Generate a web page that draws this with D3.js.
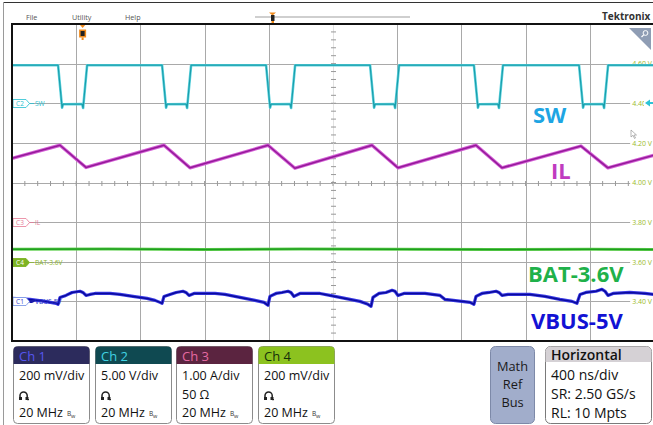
<!DOCTYPE html>
<html><head><meta charset="utf-8">
<script src="https://cdn.jsdelivr.net/npm/d3@7"></script>
<style>body{margin:0;background:#fff;overflow:hidden}svg{display:block}</style>
</head><body>
<svg id="c" width="653" height="425"></svg>
<script>
// ================= DATA =================
const timeDomainNs = [0, 4000];          // 10 div x 400 ns/div
const triggerTimeNs = 440;

// Ch2 SW (volts)
const swT = [0,287,312,318,437,443,468, 935,960,966,1085,1091,1116, 1583,1608,1614,1733,1739,1764,
             2231,2256,2262,2381,2387,2412, 2878,2903,2909,3028,3034,3059, 3533,3558,3564,3683,3689,3714, 4000];
const swV = [4.80,4.80,-0.55,-0.12,-0.10,-0.60,4.80, 4.80,-0.55,-0.12,-0.10,-0.60,4.80, 4.80,-0.55,-0.12,-0.10,-0.60,4.80,
             4.80,-0.55,-0.12,-0.10,-0.60,4.80, 4.80,-0.55,-0.12,-0.10,-0.60,4.80, 4.80,-0.55,-0.12,-0.10,-0.60,4.80, 4.80];

// Ch3 IL (amps)
const ilT = [0,299,461,947,1109,1595,1763,2243,2405,2891,3053,3545,3713,4000];
const ilA = [1.61,1.94,1.38,1.94,1.37,1.94,1.36,1.94,1.37,1.94,1.37,1.92,1.37,1.69];

// Ch4 BAT-3.6V (volts)
const batT = [0,600,1200,1800,2400,3000,3600,4000];
const batV = [3.663,3.664,3.662,3.664,3.663,3.662,3.663,3.662];

// Ch1 VBUS-5V (volts)
const vbusT = [0,112,206,274,287, 299,336,374,424,442,461,486,517,611,673,754,841,891,922,935,
  947,984,1022,1065,1084,1103,1134,1265,1327,1421,1514,1570,1595,
  1607,1645,1682,1720,1738,1757,1794,1919,1981,2075,2168,2218,2237,
  2249,2287,2330,2368,2386,2405,2442,2573,2667,2698,2854,2878,
  2891,2928,2972,3016,3034,3053,3090,3227,3321,3414,3489,3520,
  3539,3576,3639,3676,3695,3713,3745,3849,3944,4000];
const vbusV = [5.015,5.010,5.000,4.990,4.985, 5.020,5.030,5.045,5.051,5.045,5.030,5.035,5.040,5.040,5.035,5.025,5.015,5.005,4.995,4.990,
  5.025,5.035,5.045,5.051,5.045,5.030,5.040,5.040,5.035,5.020,5.005,4.995,4.980,
  5.025,5.040,5.045,5.051,5.045,5.025,5.040,5.040,5.030,5.015,5.000,4.985,4.975,
  5.020,5.040,5.045,5.056,5.051,5.030,5.040,5.040,5.030,5.010,4.995,4.985,
  5.025,5.040,5.045,5.051,5.045,5.030,5.035,5.035,5.025,5.010,5.000,4.990,
  5.035,5.045,5.051,5.061,5.051,5.030,5.040,5.045,5.040,5.035];

// channel settings
const chIds      = ["C1","C2","C3","C4"];
const chNames    = ["VBUS-5V","SW","IL","BAT-3.6V"];
const chOffsets  = [5.0, 0, 0, 3.6];      // value at marker
const chPerDiv   = [0.2, 5.0, 1.0, 0.2];
const chPosDiv   = [-3, 2, -1, -2];
const ch4Ticks   = [4.6,4.4,4.2,4.0,3.8,3.6,3.4];
const panelTitles = ["Ch 1","Ch 2","Ch 3","Ch 4"];
const panelScale  = ["200 mV/div","5.00 V/div","1.00 A/div","200 mV/div"];
const panelMid    = ["probe","probe","50 Ω","probe"];
const panelBw     = ["20 MHz","20 MHz","20 MHz","20 MHz"];
const horizLines  = ["400 ns/div","SR: 2.50 GS/s","RL: 10 Mpts"];
const menuItems   = ["File","Utility","Help"];

// ================= DRAW =================
const svg = d3.select("#c");
const F = "'Open Sans','Noto Sans',sans-serif";
const GL = 12, GT = 24, GW = 642, GH = 317, GB = GT + GH;
const divX = GW/10, divY = GH/8, yC = GT + GH/2;

const x = d3.scaleLinear().domain(timeDomainNs).range([GL, GL+GW]);
function chScale(i){
  const top = chOffsets[i] + (4 - chPosDiv[i]) * chPerDiv[i];
  const bot = chOffsets[i] + (-4 - chPosDiv[i]) * chPerDiv[i];
  return d3.scaleLinear().domain([bot, top]).range([GB, GT]);
}
const yS = [0,1,2,3].map(chScale);

// outer frame
svg.append("line").attr("x1",3).attr("x2",653).attr("y1",2.5).attr("y2",2.5).attr("stroke","#333");
svg.append("line").attr("x1",3.5).attr("x2",3.5).attr("y1",2).attr("y2",425).attr("stroke","#9a9a9a");

// menu
const menuX = [26, 72, 125];
menuItems.forEach((m,i)=>svg.append("text").attr("x",menuX[i]).attr("y",19.5).text(m)
  .attr("font-family",F).attr("font-size",7.2).attr("fill","#555"));
// record bar
svg.append("line").attr("x1",255).attr("x2",410).attr("y1",17).attr("y2",17).attr("stroke","#cfcfcf").attr("stroke-width",2);
svg.append("path").attr("d","M269,12.5 L276,12.5 L272.5,15.5 Z").attr("fill","#f08a1c");
svg.append("rect").attr("x",271).attr("y",15).attr("width",3.5).attr("height",6).attr("fill","#222");
svg.append("rect").attr("x",271.5).attr("y",21).attr("width",2.5).attr("height",2).attr("fill","#f08a1c");
// logo
svg.append("text").attr("x",602).attr("y",20).text("Tektronix").attr("font-family",F)
  .attr("font-size",10).attr("font-weight","bold").attr("fill","#333");

// grid
const grid = svg.append("g");
d3.range(1,10).filter(k=>k!==5).forEach(k=>{
  const xx = Math.round(x(k*400))+0.5;
  grid.append("line").attr("x1",xx).attr("x2",xx).attr("y1",GT).attr("y2",GB).attr("stroke","#a9a9a9");
});
const hVals = [4.6,4.4,4.2,4.0,3.8,3.6,3.4];
hVals.forEach(v=>{
  const yy = Math.round(yS[3](v))+0.5;
  grid.append("line").attr("x1",GL).attr("x2",GL+GW).attr("y1",yy).attr("y2",yy).attr("stroke","#a9a9a9");
});
// center ticks
const xc = Math.round(x(2000))+0.5;
grid.append("line").attr("x1",xc).attr("x2",xc).attr("y1",GT).attr("y2",GB).attr("stroke","#e2e2e2");
d3.range(1,40).forEach(k=>{
  const yy = GT + k*divY/5;
  grid.append("line").attr("x1",xc-2.5).attr("x2",xc+2.5).attr("y1",yy).attr("y2",yy).attr("stroke","#999");
});
d3.range(1,50).forEach(k=>{
  const xx = GL + k*divX/5;
  grid.append("line").attr("x1",xx).attr("x2",xx).attr("y1",Math.round(yC)-2).attr("y2",Math.round(yC)+3).attr("stroke","#999");
});

// right-side ch4 axis labels
const axG = svg.append("g").attr("transform","translate(652,0)")
  .call(d3.axisLeft(yS[3]).tickValues(ch4Ticks).tickSize(0).tickPadding(0).tickFormat(d=>d.toFixed(2)+" V"));
axG.select(".domain").remove();
axG.selectAll("text").attr("font-family",F).attr("font-size",7).attr("fill","#9cbb2c");
axG.selectAll(".tick").each(function(){
  const t = d3.select(this).select("text"); const b = t.node().getBBox();
  d3.select(this).insert("rect","text").attr("x",b.x-2).attr("y",b.y).attr("width",b.width+3).attr("height",b.height).attr("fill","#fff");
});
// ch2 level indicator at right
svg.append("rect").attr("x",644).attr("y",98).attr("width",9).attr("height",10).attr("fill","#fff");
svg.append("path").attr("d","M645,103 L650,99.5 L650,106.5 Z M649,102 H653 V104 H649 Z").attr("fill","#2cc3d6");

// traces
function trace(T, V, i, light, core, wl, wc){
  const line = d3.line().x((d,j)=>x(T[j])).y((d,j)=>yS[i](V[j]));
  svg.append("path").attr("d",line(V)).attr("fill","none").attr("stroke",light).attr("stroke-width",wl).attr("stroke-linejoin","round");
  svg.append("path").attr("d",line(V)).attr("fill","none").attr("stroke",core).attr("stroke-width",wc).attr("stroke-linejoin","round");
}
trace(batT, batV, 3, "#5fcf4f", "#1e9e1e", 3, 1.4);
trace(vbusT, vbusV, 0, "#3b3be6", "#0a0a9c", 3.2, 1.5);
trace(ilT, ilA, 2, "#d45fd6", "#951a9a", 3.4, 1.5);
trace(swT, swV, 1, "#5ed3df", "#1a9fac", 2.6, 1.2);

// left channel labels
const labStyle = [
  {fill:"#fff", stroke:"#7f9ae6", text:"#3340d0", nameCol:"#2b32c8"},
  {fill:"#fff", stroke:"#3cc6d6", text:"#2bbfd0", nameCol:"#2bbfd0"},
  {fill:"#fff", stroke:"#ea8aa2", text:"#e47c98", nameCol:"#e47c98"},
  {fill:"#7db324", stroke:"#7db324", text:"#fff", nameCol:"#8ab52a"}
];
[0,1,2,3].forEach(i=>{
  const y = Math.round(yS[i](chOffsets[i]))+0.5;
  const s = labStyle[i];
  const g = svg.append("g");
  g.append("path").attr("d",`M13,${y-4} H26 L29.5,${y} L26,${y+4} H13 Z`).attr("fill",s.fill).attr("stroke",s.stroke).attr("stroke-width",0.9);
  g.append("text").attr("x",20).attr("y",y+2.4).attr("text-anchor","middle").text(chIds[i])
    .attr("font-family",F).attr("font-size",6.5).attr("fill",s.text);
  if(i===0){
    g.append("path").attr("d",`M29.5,${y-1.5} H32 L35,${y} L32,${y+1.5} H29.5 Z`).attr("fill","#1a1aa8");
  } else {
    g.append("line").attr("x1",29.5).attr("x2",34).attr("y1",y).attr("y2",y).attr("stroke",s.nameCol).attr("stroke-width",0.8);
  }
  g.append("text").attr("x",35).attr("y",y+2.4).text(chNames[i])
    .attr("font-family",F).attr("font-size",6.6).attr("fill",s.nameCol);
});

// big annotation labels
const big = [
  {t:"SW", x:533, y:123, c:"#1ea5e3"},
  {t:"IL", x:551, y:179, c:"#c03cc0"},
  {t:"BAT-3.6V", x:528, y:282, c:"#1fb14a"},
  {t:"VBUS-5V", x:531, y:329, c:"#1212d4"}
];
big.forEach(b=>svg.append("text").attr("x",b.x).attr("y",b.y).text(b.t).attr("font-family",F)
  .attr("font-size",22).attr("font-weight","bold").attr("fill",b.c));

// mouse cursor
svg.append("path").attr("d","M631,130 L631,137 L633,135.3 L634.5,138.5 L635.5,138 L634,135 L636.5,135 Z")
  .attr("fill","#fff").attr("stroke","#888").attr("stroke-width",0.6);

// trigger marker on graticule
const tx = x(triggerTimeNs);
svg.append("path").attr("d",`M${tx-3.5},${GT} H${tx+3.5} L${tx},${GT+4} Z`).attr("fill","#f08a1c");
svg.append("rect").attr("x",tx-3.5).attr("y",GT+5.5).attr("width",7).attr("height",8).attr("fill","#f08a1c");
svg.append("rect").attr("x",tx-2).attr("y",GT+7).attr("width",4).attr("height",5).attr("fill","#222");
svg.append("rect").attr("x",tx-1).attr("y",GT+13.5).attr("width",2).attr("height",2.5).attr("fill","#f08a1c");

// zoom corner
svg.append("path").attr("d","M629,28 H651 V50 Z").attr("fill","#8f9db4");
svg.append("circle").attr("cx",645.5).attr("cy",33).attr("r",2.4).attr("fill","none").attr("stroke","#fff").attr("stroke-width",1);
svg.append("line").attr("x1",643.7).attr("y1",34.8).attr("x2",641.5).attr("y2",37).attr("stroke","#fff").attr("stroke-width",1.2);

// graticule border
svg.append("path").attr("d",`M655,${GT} H${GL} V${GB} H655`).attr("fill","none").attr("stroke","#111").attr("stroke-width",2);

// channel panels
const pX = [13, 95, 176, 258], pW = 76, pY = 346, pH = 77;
const hdrFill = ["#2c2b5c","#0f4951","#5b2440","#8cc21f"];
const hdrText = ["#5656ee","#41d2e2","#e66aa2","#15300a"];
function probe(g, px, py){
  g.append("path").attr("d",`M${px},${py+7} V${py+3.5} A3.6,3.6 0 0 1 ${px+7.2},${py+3.5} V${py+7}`)
    .attr("fill","none").attr("stroke","#222").attr("stroke-width",1.5);
  g.append("rect").attr("x",px-1).attr("y",py+5).attr("width",3).attr("height",3).attr("fill","#222");
  g.append("rect").attr("x",px+5.5).attr("y",py+5).attr("width",3).attr("height",3).attr("fill","#222");
  g.append("rect").attr("x",px+7).attr("y",py+7).attr("width",2).attr("height",1.2).attr("fill","#222");
}
function bw(g, px, py){
  g.append("text").attr("x",px).attr("y",py-1).text("B").attr("font-family",F).attr("font-size",6.5).attr("fill","#333");
  g.append("text").attr("x",px+4).attr("y",py+1).text("w").attr("font-family",F).attr("font-size",5.5).attr("fill","#333");
}
[0,1,2,3].forEach(i=>{
  const g = svg.append("g"), x0 = pX[i];
  g.append("rect").attr("x",x0+0.5).attr("y",pY+0.5).attr("width",pW).attr("height",pH).attr("rx",4).attr("fill","#fff").attr("stroke","#8c8c8c");
  g.append("path").attr("d",`M${x0+0.5},${pY+18} V${pY+4.5} A4,4 0 0 1 ${x0+4.5},${pY+0.5} H${x0+pW-3.5} A4,4 0 0 1 ${x0+pW+0.5},${pY+4.5} V${pY+18} Z`)
    .attr("fill",hdrFill[i]);
  g.append("text").attr("x",x0+6).attr("y",pY+15).text(panelTitles[i]).attr("font-family",F).attr("font-size",13).attr("fill",hdrText[i]);
  g.append("text").attr("x",x0+6).attr("y",pY+34).text(panelScale[i]).attr("font-family",F).attr("font-size",12.5).attr("fill","#111");
  if(panelMid[i]==="probe") probe(g, x0+7, pY+46);
  else g.append("text").attr("x",x0+6).attr("y",pY+53).text(panelMid[i]).attr("font-family",F).attr("font-size",12.5).attr("fill","#111");
  const t3 = g.append("text").attr("x",x0+6).attr("y",pY+71).text(panelBw[i]).attr("font-family",F).attr("font-size",12.5).attr("fill","#111");
  const w = t3.node().getComputedTextLength();
  bw(g, x0+6+w+4, pY+71);
});

// Math Ref Bus
svg.append("rect").attr("x",490.5).attr("y",346.5).attr("width",44).attr("height",77).attr("rx",5).attr("fill","#a1adcb").attr("stroke","#7d89a8");
["Math","Ref","Bus"].forEach((t,i)=>svg.append("text").attr("x",512.5).attr("y",371+i*18).attr("text-anchor","middle").text(t)
  .attr("font-family",F).attr("font-size",12.8).attr("fill","#1a1a1a"));

// Horizontal panel
svg.append("rect").attr("x",545.5).attr("y",346.5).attr("width",106).attr("height",77).attr("rx",5).attr("fill","#fff").attr("stroke","#7a7a7a");
svg.append("path").attr("d","M545.5,362 V351.5 A5,5 0 0 1 550.5,346.5 H646.5 A5,5 0 0 1 651.5,351.5 V362 Z").attr("fill","#d5d1d5");
svg.append("text").attr("x",551).attr("y",359.5).text("Horizontal").attr("font-family",F).attr("font-size",14).attr("font-weight",600).attr("fill","#111");
horizLines.forEach((t,i)=>svg.append("text").attr("x",551).attr("y",380+i*19).text(t).attr("font-family",F).attr("font-size",14).attr("fill","#111"));
</script>
</body></html>
